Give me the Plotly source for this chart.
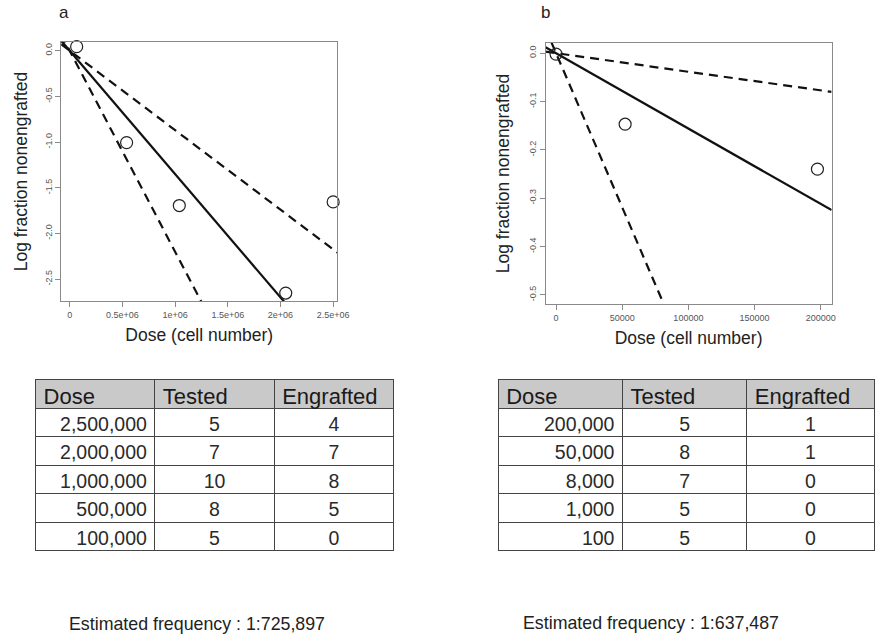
import plotly.graph_objects as go

# ---------------- data ----------------
# Panel a
a_dose_pts = [0.066e6, 0.54e6, 1.04e6, 2.05e6, 2.50e6]
a_logfrac = [0.044, -1.006, -1.695, -2.653, -1.655]
a_slope_fit = -1.35e-6
a_slope_ci_upper = -0.87e-6
a_slope_ci_lower = -2.2e-6
a_xticks = [0, 0.5e6, 1e6, 1.5e6, 2e6, 2.5e6]
a_xticklabels = ["0", "0.5e+06", "1e+06", "1.5e+06", "2e+06", "2.5e+06"]
a_yticks = [0, -0.5, -1.0, -1.5, -2.0, -2.5]
a_yticklabels = ["0.0", "-0.5", "-1.0", "-1.5", "-2.0", "-2.5"]
a_xrange = [-0.081e6, 2.54e6]
a_yrange = [-2.74, 0.095]

# Panel b
b_dose_pts = [0, 52200, 197500]
b_logfrac = [-0.002, -0.147, -0.240]
b_slope_fit = -1.56e-6
b_slope_ci_upper = -3.85e-7
b_slope_ci_lower = -6.38e-6
b_xticks = [0, 50000, 100000, 150000, 200000]
b_xticklabels = ["0", "50000", "100000", "150000", "200000"]
b_yticks = [0, -0.1, -0.2, -0.3, -0.4, -0.5]
b_yticklabels = ["0.0", "-0.1", "-0.2", "-0.3", "-0.4", "-0.5"]
b_xrange = [-7950, 208200]
b_yrange = [-0.519, 0.021]

# Tables
table_header = ["Dose", "Tested", "Engrafted"]
a_tab_dose = ["2,500,000", "2,000,000", "1,000,000", "500,000", "100,000"]
a_tab_tested = ["5", "7", "10", "8", "5"]
a_tab_engrafted = ["4", "7", "8", "5", "0"]
b_tab_dose = ["200,000", "50,000", "8,000", "1,000", "100"]
b_tab_tested = ["5", "8", "7", "5", "5"]
b_tab_engrafted = ["1", "1", "0", "0", "0"]

a_freq_text = "Estimated frequency : 1:725,897"
b_freq_text = "Estimated frequency : 1:637,487"

# ---------------- figure ----------------
W, H = 887, 639
FONT = "Liberation Sans, Arial, sans-serif"
BOXC = "#8a8a8a"
TICKC = "#555555"

fig = go.Figure()


def px_x(p):
    return p / W


def px_y(p):
    return 1 - p / H


def add_panel(xa, ya, xs, ys, slopes, xr):
    for s, dash in zip(slopes, ["solid", "9px,6px", "9px,6px"]):
        fig.add_trace(go.Scatter(
            x=[xr[0], xr[1]], y=[s * xr[0], s * xr[1]], mode="lines",
            line=dict(color="#111111", width=2.2, dash=dash),
            xaxis=xa, yaxis=ya, showlegend=False, hoverinfo="skip"))
    fig.add_trace(go.Scatter(
        x=xs, y=ys, mode="markers",
        marker=dict(symbol="circle-open", size=12, color="#222222", line=dict(width=1.2)),
        xaxis=xa, yaxis=ya, showlegend=False, cliponaxis=False))


add_panel("x", "y", a_dose_pts, a_logfrac,
          [a_slope_fit, a_slope_ci_upper, a_slope_ci_lower], a_xrange)
add_panel("x2", "y2", b_dose_pts, b_logfrac,
          [b_slope_fit, b_slope_ci_upper, b_slope_ci_lower], b_xrange)

axis_common = dict(showline=True, mirror=True, linecolor=BOXC, linewidth=1,
                   ticks="outside", ticklen=5, tickcolor=BOXC, tickwidth=1,
                   showgrid=False, zeroline=False,
                   tickfont=dict(family=FONT, size=9, color=TICKC))
title_font = dict(family=FONT, size=17.5, color="#222222")

fig.update_layout(
    xaxis=dict(domain=[px_x(62), px_x(342)], range=a_xrange, tickvals=a_xticks,
               ticktext=a_xticklabels, anchor="y",
               title=dict(text="Dose (cell number)", font=title_font, standoff=9),
               **axis_common),
    yaxis=dict(domain=[px_y(301), px_y(42)], range=a_yrange, tickvals=a_yticks,
               ticktext=a_yticklabels, tickangle=-90, anchor="x",
               title=dict(text="Log fraction nonengrafted", font=title_font, standoff=11),
               **axis_common),
    xaxis2=dict(domain=[px_x(553), px_x(843)], range=b_xrange, tickvals=b_xticks,
                ticktext=b_xticklabels, anchor="y2",
                title=dict(text="Dose (cell number)", font=title_font, standoff=9),
                **axis_common),
    yaxis2=dict(domain=[px_y(304), px_y(43)], range=b_yrange, tickvals=b_yticks,
                ticktext=b_yticklabels, tickangle=-90, anchor="x2",
                title=dict(text="Log fraction nonengrafted", font=title_font, standoff=13),
                **axis_common),
)


def add_table(x0, x1, y0, y1, cols, colw):
    fig.add_trace(go.Table(
        domain=dict(x=[px_x(x0), min(1.0, px_x(x1))], y=[px_y(y1), px_y(y0)]),
        columnwidth=colw,
        header=dict(values=table_header, fill_color="#c9c9c9",
                    line=dict(color="#444444", width=1), align="left", height=29,
                    font=dict(family=FONT, size=22, color="#1a1a1a")),
        cells=dict(values=cols, fill_color="white",
                   line=dict(color="#444444", width=1),
                   align=["right", "center", "center"], height=28.6,
                   font=dict(family=FONT, size=19.5, color="#2a2a2a")),
    ))


add_table(36, 399, 379, 551, [a_tab_dose, a_tab_tested, a_tab_engrafted], [121, 121, 121])
add_table(505, 887, 379, 551, [b_tab_dose, b_tab_tested, b_tab_engrafted], [121, 121, 124])

annos = [
    dict(text="a", x=px_x(65), y=px_y(12), xanchor="center", yanchor="middle",
         font=dict(family=FONT, size=17, color="#222222")),
    dict(text="b", x=px_x(553), y=px_y(13), xanchor="center", yanchor="middle",
         font=dict(family=FONT, size=17, color="#222222")),
    dict(text=a_freq_text, x=px_x(68), y=px_y(624), xanchor="left", yanchor="middle",
         font=dict(family=FONT, size=17.8, color="#222222")),
    dict(text=b_freq_text, x=px_x(528), y=px_y(623), xanchor="left", yanchor="middle",
         font=dict(family=FONT, size=17.8, color="#222222")),
]
for an in annos:
    an.update(xref="paper", yref="paper", showarrow=False)

fig.update_layout(
    width=W, height=H, margin=dict(l=0, r=0, t=0, b=0),
    paper_bgcolor="white", plot_bgcolor="white",
    annotations=annos, showlegend=False,
)

fig.write_html("out.html")
